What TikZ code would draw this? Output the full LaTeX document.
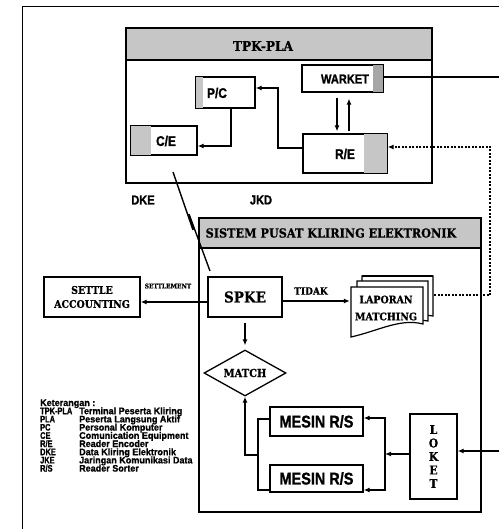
\documentclass[tikz,border=0pt]{standalone}
\usepackage{fontspec}
\setmainfont{Liberation Sans}
\newfontfamily\hv{Liberation Sans}[FakeStretch=0.85,FakeBold=1.2]
\newfontfamily\hvleg{Liberation Sans}[FakeStretch=0.95,FakeBold=1.0]
\newfontfamily\hvlegA{Liberation Sans}[FakeStretch=0.78,FakeBold=1.0]
\newfontfamily\slab{DejaVu Serif}[FakeStretch=0.9,FakeBold=0.8]
\usetikzlibrary{shapes.geometric,arrows.meta,calc}
\begin{document}
\begin{tikzpicture}[x=1pt,y=-1pt,
  box/.style={draw,line width=1.3pt,fill=white,inner sep=0pt},
  hvl/.style={inner sep=0pt,font=\hv\bfseries\fontsize{14}{14}\selectfont},
  sll/.style={inner sep=0pt,font=\slab\bfseries\fontsize{10}{14}\selectfont},
  arr/.style={line width=1.2pt,-{Latex[length=6pt,width=5pt]}},
  ln/.style={line width=1.2pt},
  dotl/.style={line width=1.3pt,dash pattern=on 2pt off 1.5pt},
  hatch/.style={fill=gray!45},
  leg/.style={inner sep=0pt,anchor=base west,font=\hvleg\bfseries\fontsize{9.5}{9.5}\selectfont},
  legA/.style={inner sep=0pt,anchor=base west,font=\hvlegA\bfseries\fontsize{9.5}{9.5}\selectfont}]
\useasboundingbox (0,0) rectangle (499,529);
% outer frame
\draw[line width=1pt] (22,529) -- (22,7) -- (499,7);

% ---------- TPK-PLA block
\node[box,minimum width=306pt,minimum height=155pt] (tpk) at (279,105.5) {};
\fill[hatch] (126.65,28.65) rectangle (431.35,60);
\draw[line width=1.3pt] (126,60) -- (432,60);
\node[sll,font=\slab\bfseries\fontsize{13.5}{13.5}\selectfont] (tpkt) at (263,46) {TPK-PLA};

\node[box,minimum width=81pt,minimum height=27pt] (warket) at (342.5,78.5) {};
\fill[gray!70] ([xshift=-11pt,yshift=-0.65pt]warket.north east) rectangle ([xshift=-0.65pt,yshift=0.65pt]warket.south east);
\node[hvl,font=\hv\bfseries\fontsize{13}{13}\selectfont] (warkett) at (345,79) {WARKET};

\node[box,minimum width=59pt,minimum height=31pt] (pc) at (225.5,92.5) {};
\fill[hatch] ([xshift=0.65pt,yshift=-0.65pt]pc.north west) rectangle ([xshift=8pt,yshift=0.65pt]pc.south west);
\node[hvl] (pct) at (217,93) {P/C};

\node[box,minimum width=66pt,minimum height=29pt] (ce) at (164,140.5) {};
\fill[hatch] ([xshift=0.65pt,yshift=-0.65pt]ce.north west) rectangle ([xshift=21pt,yshift=0.65pt]ce.south west);
\node[hvl] (cet) at (166,141) {C/E};

\node[box,minimum width=84pt,minimum height=39pt] (re) at (345,153.5) {};
\fill[hatch] ([xshift=-24pt,yshift=-0.65pt]re.north east) rectangle ([xshift=-0.65pt,yshift=0.65pt]re.south east);
\node[hvl] (ret) at (345,154) {R/E};

% arrows inside TPK
\coordinate (xa) at (337,0);
\coordinate (xb) at (349,0);
\draw[arr,shorten <=5pt,shorten >=2pt] (warket.south -| xa) -- (re.north -| xa);
\draw[arr,shorten <=2pt,shorten >=6pt] (re.north -| xb) -- (warket.south -| xb);
\coordinate (bend1) at (278,88);
\draw[arr] ([yshift=5.5pt]re.west) -| (bend1) -- (pc.east |- bend1);
\coordinate (bend2) at (231,146);
\draw[arr] (pc.south -| bend2) -- (bend2) -- (ce.east |- bend2);
\coordinate (wout) at (499,77);
\draw[ln] (warket.east |- wout) -- (wout);

% labels DKE JKD
\node[hvl,font=\hv\bfseries\fontsize{13}{13}\selectfont] (dke) at (143,200) {DKE};
\node[hvl,font=\hv\bfseries\fontsize{13}{13}\selectfont] (jkd) at (261,200) {JKD};

% ---------- Sistem block
\node[box,minimum width=282pt,minimum height=294pt] (sis) at (340,365) {};
\fill[hatch] (199.65,218.65) rectangle (480.35,248);
\draw[line width=1.3pt] (199,248) -- (481,248);
\node[sll,font=\slab\bfseries\fontsize{12.5}{12.5}\selectfont] (sist) at (331,233) {SISTEM PUSAT KLIRING ELEKTRONIK};

% lightning link
\coordinate (ls) at (173,172);
\coordinate (lm1) at (193,230);
\coordinate (lm2) at (189,214);
\coordinate (le) at (210,271);
\draw[line width=1.4pt,line join=miter] (ls) -- (lm1) -- (lm2) -- (le);

\node[box,minimum width=74pt,minimum height=40pt,font=\slab\bfseries\fontsize{15}{15}\selectfont] (spke) at (245,297) {SPKE};
\node[box,minimum width=96pt,minimum height=40pt,align=center,font=\slab\bfseries\fontsize{10.5}{14}\selectfont] (settle) at (92,297) {SETTLE\\ACCOUNTING};

\draw[arr] ([yshift=-5pt]spke.west) -- ([yshift=-5pt]settle.east);
\node[sll,font=\slab\bfseries\fontsize{6.5}{6.5}\selectfont] (setl) at (168,286) {SETTLEMENT};

% laporan document stack
\draw[line width=1.2pt,fill=white] (362,276) -- (433,276) -- (433,316) .. controls (410,312) and (390,322) .. (362,326) -- cycle;
\draw[line width=2.4pt] (362,276) -- (433,276);
\draw[line width=1.2pt,fill=white] (357,281) -- (428,281) -- (428,321) .. controls (405,317) and (385,327) .. (357,331) -- cycle;
\draw[line width=1.2pt,fill=white] (351,287) -- (423,287) -- (423,324) .. controls (400,318) and (378,331) .. (351,337) -- cycle;
\node[minimum width=72pt,minimum height=48pt,inner sep=0pt,align=center,font=\slab\bfseries\fontsize{10.5}{17}\selectfont] (lap) at (386,308) {LAPORAN\\MATCHING};

\draw[arr] ([yshift=-4pt]spke.east) -- ([yshift=-4pt]spke.east -| lap.west);
\node[sll,font=\slab\bfseries\fontsize{10}{10}\selectfont] (tidak) at (311,291) {TIDAK};

% dotted feedback
\coordinate (lapr) at (434,295);
\coordinate (dbot) at (490,295);
\draw[dotl,-{Latex[length=6pt,width=5pt]}] (lapr) -- (dbot) |- ([yshift=6.5pt]re.east);

% match
\node[draw,diamond,line width=1.3pt,minimum width=82pt,minimum height=46pt,inner sep=0pt,aspect=1.78,fill=white,font=\slab\bfseries\fontsize{11}{11}\selectfont] (match) at (245,373) {MATCH};
\draw[arr,shorten <=5pt,shorten >=4pt] (spke.south) -- (spke.south |- match.north);

% mesin r/s
\node[box,minimum width=93pt,minimum height=29pt,font=\hv\bfseries\fontsize{17}{17}\selectfont] (mes1) at (316.5,421.5) {MESIN R/S};
\node[box,minimum width=93pt,minimum height=27pt,font=\hv\bfseries\fontsize{17}{17}\selectfont] (mes2) at (316.5,478.5) {MESIN R/S};

\coordinate (jl) at (258,455);
\draw[ln] ([yshift=2.5pt]mes1.west) -| (jl) |- ([yshift=-11.5pt]mes2.west);
\draw[arr] (jl) -| (match.south);

% loket
\node[box,minimum width=47pt,minimum height=85pt,align=center,font=\slab\bfseries\fontsize{12}{13.5}\selectfont] (loket) at (433.5,456.5) {L\\O\\K\\E\\T};
\coordinate (jr) at (385,454);
\draw[arr] ([yshift=2.5pt]loket.west) -- (jr);
\draw[arr] (jr) |- ([yshift=3.5pt]mes1.east);
\draw[arr] (jr) |- ([yshift=-11.5pt]mes2.east);
\coordinate (rin) at (499,451);
\draw[arr] (rin) -- (loket.east |- rin);

% legend
\node[leg] (k0) at (40,406) {Keterangan :};
\foreach \i/\a/\b in {1/TPK-PLA/Terminal Peserta Kliring,2/PLA/Peserta Langsung Aktif,3/PC/Personal Komputer,4/CE/Comunication Equipment,5/R\slash E/Reader Encoder,6/DKE/Data Kliring Elektronik,7/JKE/Jaringan Komunikasi Data,8/R\slash S/Reader Sorter}{
  \node[legA] (la\i) at (40,{406+8.2*\i}) {\a};
  \node[leg] (lb\i) at (79,{406+8.2*\i}) {\b};
}
\end{tikzpicture}
\end{document}
